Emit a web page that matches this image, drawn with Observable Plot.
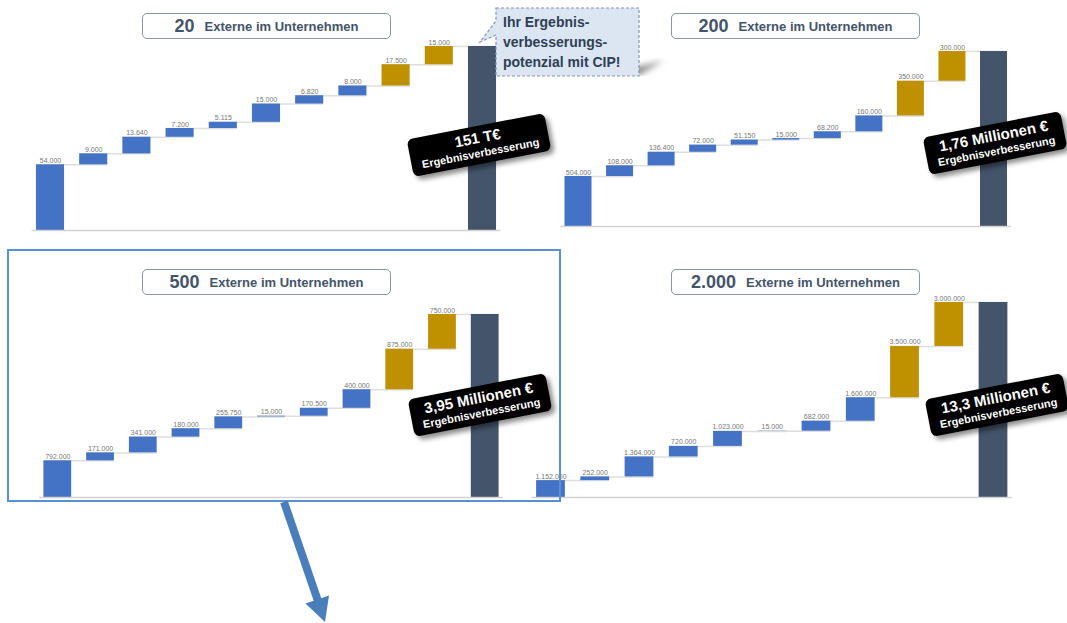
<!DOCTYPE html>
<html><head><meta charset="utf-8">
<script src="https://cdn.jsdelivr.net/npm/d3@7"></script>
<script src="https://cdn.jsdelivr.net/npm/@observablehq/plot@0.6"></script>
<style>
body{margin:0;background:#fff;font-family:"Liberation Sans",Arial,sans-serif;}
#page{position:relative;width:1067px;height:623px;overflow:hidden;background:#fff;}
.wrap{position:absolute;}
.tbox{position:absolute;box-sizing:border-box;width:249px;height:26px;border:1.5px solid #8a94a2;border-radius:5px;background:#fff;color:#44546a;display:flex;align-items:center;justify-content:center;font-weight:bold;white-space:nowrap;}
.tbox .n{font-size:18px;margin-right:10px;}
.tbox .t{font-size:13px;}
.badge{position:absolute;width:140px;height:38px;margin-left:-70px;margin-top:-19px;background:#000;border-radius:6px;color:#fff;transform:rotate(-11deg);box-shadow:3px 4px 5px rgba(0,0,0,0.45);text-align:center;font-weight:bold;white-space:nowrap;}
.badge .a{font-size:15px;line-height:17px;padding-top:3px;}
.badge .b{font-size:11px;line-height:14px;}
.frame{position:absolute;box-sizing:border-box;border:2px solid #5a8fd8;}
</style></head>
<body><div id="page"></div>
<script>
// ---- data ----
const titleNumbers = ["20", "200", "500", "2.000"];
const titleText = "Externe im Unternehmen";
const totalsText = ["151 T€", "1,76 Millionen €", "3,95 Millionen €", "13,3 Millionen €"];
const totalSubtitle = "Ergebnisverbesserung";
const steps20   = [54000, 9000, 13640, 7200, 5115, 15000, 6820, 8000, 17500, 15000];
const steps200  = [504000, 108000, 136400, 72000, 51150, 15000, 68200, 160000, 350000, 300000];
const steps500  = [792000, 171000, 341000, 180000, 255750, 15000, 170500, 400000, 875000, 750000];
const steps2000 = [1152000, 252000, 1364000, 720000, 1023000, 15000, 682000, 1600000, 3500000, 3000000];
const stepKinds = ["base", "base", "base", "base", "base", "base", "base", "base", "gain", "gain"];
const calloutLines = ["Ihr Ergebnis-", "verbesserungs-", "potenzial mit CIP!"];

// ---- layout (page pixel positions) ----
const layout = [
  {left: 20,  top: 30,  width: 500, height: 210, base: 230, topY: 46,  c0: 50,   c1: 482,   tx: 142, ty: 13,  bx: 479, by: 145},
  {left: 540, top: 30,  width: 500, height: 210, base: 226, topY: 51,  c0: 578,  c1: 993.5, tx: 671, ty: 13,  bx: 995, by: 143},
  {left: 20,  top: 290, width: 500, height: 220, base: 497, topY: 314, c0: 57.3, c1: 484.7, tx: 142, ty: 269, bx: 480, by: 405},
  {left: 520, top: 290, width: 530, height: 220, base: 497, topY: 302, c0: 550.5, c1: 993,  tx: 671, ty: 269, bx: 997, by: 405}
];
const allSteps = [steps20, steps200, steps500, steps2000];

const loc = d3.formatLocale({decimal: ",", thousands: ".", grouping: [3], currency: ["", "€"]});
const fmt = loc.format(",d");
const page = document.getElementById("page");

function waterfall(steps, cfg) {
  const rows = [];
  let acc = 0;
  steps.forEach((v, i) => {
    rows.push({i, start: acc, end: acc + v, value: v, kind: stepKinds[i]});
    acc += v;
  });
  rows.push({i: steps.length, start: 0, end: acc, value: acc, kind: "total"});
  const links = rows.slice(0, -1).map(r => ({a: r.i, b: r.i + 1, level: r.end}));
  const n = rows.length;
  const pi = 0.35, po = 0.1;
  const st = (cfg.c1 - cfg.c0) / (n - 1);
  const r0 = cfg.c0 - (po + (1 - pi) / 2) * st;
  const r1 = cfg.c1 + (po + (1 - pi) / 2) * st;
  return Plot.plot({
    width: cfg.width, height: cfg.height,
    marginLeft: r0 - cfg.left, marginRight: cfg.left + cfg.width - r1,
    marginTop: cfg.topY - cfg.top, marginBottom: cfg.top + cfg.height - cfg.base,
    style: {background: "transparent", overflow: "visible", fontFamily: "Liberation Sans, Arial, sans-serif"},
    x: {type: "band", domain: d3.range(n), paddingInner: pi, paddingOuter: po, round: false, axis: null},
    y: {domain: [0, acc], axis: null},
    color: {domain: ["base", "gain", "total"], range: ["#4472c4", "#bf9000", "#44546a"]},
    marks: [
      Plot.ruleY(links, {y: "level", x1: "a", x2: "b", stroke: "#dedede", strokeWidth: 1.5}),
      Plot.rectY(rows, {x: "i", y1: "start", y2: "end", fill: "kind"}),
      Plot.text(rows.filter(r => r.kind !== "total"), {x: "i", y: "end", text: r => fmt(r.value), dy: -2, lineAnchor: "bottom", fontSize: 7, fill: "#777"}),
      Plot.ruleY([0], {stroke: "#d2d2d2", strokeWidth: 1.5})
    ]
  });
}

layout.forEach((cfg, k) => {
  const w = document.createElement("div");
  w.className = "wrap";
  w.style.left = cfg.left + "px";
  w.style.top = cfg.top + "px";
  w.appendChild(waterfall(allSteps[k], cfg));
  page.appendChild(w);
});

// blue selection frame
const fr = document.createElement("div");
fr.className = "frame";
Object.assign(fr.style, {left: "7px", top: "249px", width: "554px", height: "253px"});
page.appendChild(fr);

// title boxes and total badges
layout.forEach((cfg, k) => {
  const t = document.createElement("div");
  t.className = "tbox";
  t.style.left = cfg.tx + "px";
  t.style.top = cfg.ty + "px";
  t.innerHTML = `<span class="n">${titleNumbers[k]}</span><span class="t">${titleText}</span>`;
  page.appendChild(t);
  const b = document.createElement("div");
  b.className = "badge";
  b.style.left = cfg.bx + "px";
  b.style.top = cfg.by + "px";
  b.innerHTML = `<div class="a">${totalsText[k]}</div><div class="b">${totalSubtitle}</div>`;
  page.appendChild(b);
});

// callout + arrow overlay
const ov = d3.select(page).append("svg")
  .attr("width", 1067).attr("height", 623)
  .style("position", "absolute").style("left", 0).style("top", 0).style("pointer-events", "none");
const defs = ov.append("defs");
defs.append("filter").attr("id", "blur").append("feGaussianBlur").attr("stdDeviation", 3);
ov.append("polygon").attr("points", "590,74 640,74 664,60 644,66").attr("fill", "#777").attr("filter", "url(#blur)");
ov.append("path")
  .attr("d", "M496,8 H639 V76 H496 V35 L480,42 L496,21 Z")
  .attr("fill", "#dce6f2").attr("stroke", "#8496ae").attr("stroke-width", 1.2).attr("stroke-dasharray", "3,2");
ov.append("text").attr("x", 503).attr("y", 27)
  .attr("font-family", "Liberation Sans, Arial, sans-serif").attr("font-weight", "bold").attr("font-size", 14).attr("fill", "#2f3f55")
  .selectAll("tspan").data(calloutLines).join("tspan")
  .attr("x", 503).attr("dy", (d, i) => i === 0 ? 0 : 20).text(d => d);
ov.append("line").attr("x1", 284).attr("y1", 502).attr("x2", 318).attr("y2", 601)
  .attr("stroke", "#4a7ebb").attr("stroke-width", 8);
ov.append("polygon").attr("points", "325,622 305.5,603.5 329,595.5").attr("fill", "#4a7ebb");
</script>
</body></html>
